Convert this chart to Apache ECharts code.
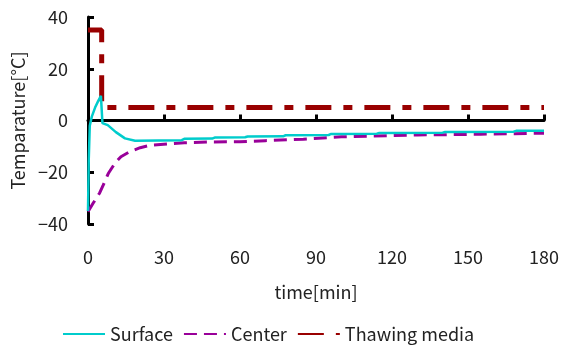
<!DOCTYPE html>
<html>
<head>
<meta charset="utf-8">
<script src="https://cdn.jsdelivr.net/npm/echarts@6/dist/echarts.min.js"></script>
<style>
  html, body { margin: 0; padding: 0; background: #fff; }
  #chart { width: 563px; height: 345px; }
</style>
</head>
<body>
<div id="chart"></div>
<script>
// time [min] / temperature [°C]
var surfaceTime = [0, 0.3, 0.7, 1.5, 2.8, 4, 5.1, 5.7, 7.8, 11, 14.6, 18.6, 37, 38, 49, 50, 62, 63, 77, 78, 95, 96, 114, 115, 140, 141, 168, 169, 180];
var surfaceTemp = [-35, -15, -2, 1.5, 5, 7.5, 9.5, -1, -1.8, -4.5, -6.9, -7.8, -7.6, -7.1, -7.0, -6.6, -6.5, -6.2, -6.1, -5.7, -5.6, -5.2, -5.1, -4.8, -4.7, -4.4, -4.3, -4.0, -4.0];

var centerTime = [0, 2, 4.6, 6, 8, 10.7, 13, 16.6, 20.6, 25, 32, 38, 48, 60, 70, 85, 100, 130, 155, 180];
var centerTemp = [-35.3, -32, -28, -25, -20.5, -16.4, -14, -12, -10.5, -9.5, -9, -8.6, -8.3, -8.2, -7.8, -7.2, -6.3, -5.6, -5.3, -4.9];

var mediaTime = [0, 5.4, 5.4, 180];
var mediaTemp = [35, 35, 5, 5];

var xTicks = { min: 0, max: 180, interval: 30 };
var yTicks = { min: -40, max: 40, interval: 20 };

function pairs(xs, ys) {
  return xs.map(function (x, i) { return [x, ys[i]]; });
}

var font = '"Noto Sans CJK JP", "Noto Sans", sans-serif';
var chart = echarts.init(document.getElementById('chart'));

chart.setOption({
  animation: false,
  textStyle: { fontFamily: font },
  grid: { left: 88, right: 19, top: 17, bottom: 121, containLabel: false },
  legend: {
    data: ['Surface', 'Center', 'Thawing media'],
    bottom: -3,
    left: 57,
    itemWidth: 42,
    itemHeight: 10,
    itemGap: 10,
    itemStyle: { opacity: 0 },
    textStyle: { fontFamily: font, fontSize: 18, color: '#222' }
  },
  xAxis: {
    type: 'value',
    min: xTicks.min,
    max: xTicks.max,
    interval: xTicks.interval,
    name: 'time[min]',
    nameLocation: 'middle',
    nameGap: 59,
    nameTextStyle: { fontFamily: font, fontSize: 18, color: '#222' },
    axisLine: { lineStyle: { color: '#000', width: 3 } },
    axisTick: { inside: true, length: 6, lineStyle: { color: '#000', width: 3 } },
    axisLabel: { margin: 24, fontSize: 18, color: '#222', fontFamily: font },
    splitLine: { show: false }
  },
  yAxis: {
    type: 'value',
    min: yTicks.min,
    max: yTicks.max,
    interval: yTicks.interval,
    name: 'Temparature[°C]',
    nameLocation: 'middle',
    nameGap: 61,
    nameTextStyle: { fontFamily: font, fontSize: 18, color: '#222' },
    axisLine: { show: true, lineStyle: { color: '#000', width: 3 } },
    axisTick: { show: true, inside: true, length: 6, lineStyle: { color: '#000', width: 3 } },
    axisLabel: {
      margin: 20,
      fontSize: 18,
      color: '#222',
      fontFamily: font,
      formatter: function (v) { return v < 0 ? '\u2212' + Math.abs(v) : String(v); }
    },
    splitLine: { show: false }
  },
  series: [
    {
      name: 'Surface',
      type: 'line',
      data: pairs(surfaceTime, surfaceTemp),
      showSymbol: false,
      symbol: 'none',
      lineStyle: { color: '#00CCCC', width: 2.5 },
      itemStyle: { color: '#00CCCC' },
      z: 3
    },
    {
      name: 'Center',
      type: 'line',
      data: pairs(centerTime, centerTemp),
      showSymbol: false,
      symbol: 'none',
      lineStyle: { color: '#990099', width: 3, type: [13, 7] },
      itemStyle: { color: '#990099' },
      z: 2
    },
    {
      name: 'Thawing media',
      type: 'line',
      data: pairs(mediaTime, mediaTemp),
      showSymbol: false,
      symbol: 'none',
      lineStyle: { color: '#990000', width: 5, type: [26, 12, 9, 12] },
      itemStyle: { color: '#990000' },
      z: 1
    }
  ]
});
</script>
</body>
</html>
